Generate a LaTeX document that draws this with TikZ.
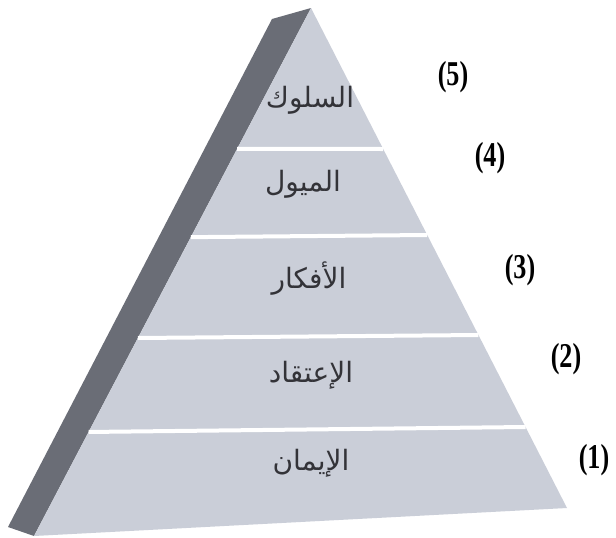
\documentclass[tikz,border=0pt]{standalone}
\usepackage{fontspec}
\setmainfont{Liberation Serif}
\newfontfamily\arabicfont[Script=Arabic]{DejaVu Sans}
\TeXXeTstate=1
\usetikzlibrary{calc}
\definecolor{faceC}{HTML}{CACED8}
\definecolor{sideC}{HTML}{6A6D76}
\definecolor{wordC}{HTML}{333338}
\newcommand{\numtxt}[1]{\scalebox{0.9}[1.2]{#1}}
\tikzset{
  word/.style={text=wordC, inner sep=0pt, font=\arabicfont\fontsize{28}{32}\selectfont},
  num/.style={text=black, inner sep=0pt, font=\bfseries\fontsize{29}{34}\selectfont},
  sep/.style={draw=white, line width=4pt}
}
\begin{document}
\begin{tikzpicture}[x=1pt,y=-1pt]
\useasboundingbox (0,0) rectangle (616,538);
\fill[white] (0,0) rectangle (616,538);
\coordinate (A) at (311,8);
\coordinate (L) at (34,536);
\coordinate (R) at (567,508);
\coordinate (S1) at (272,19);
\coordinate (S2) at (8,527);
% side face
\fill[sideC] (S1) -- (A) -- (L) -- (S2) -- cycle;
% front face
\fill[faceC] (A) -- (R) -- (L) -- cycle;
% separators
\draw[sep] ($(A)!0.267!(L)$) -- ($(A)!0.282!(R)$);
\draw[sep] ($(A)!0.434!(L)$) -- ($(A)!0.454!(R)$);
\draw[sep] ($(A)!0.625!(L)$) -- ($(A)!0.654!(R)$);
\draw[sep] ($(A)!0.803!(L)$) -- ($(A)!0.838!(R)$);
% words
\node[word] (w5) at (310,100) {\beginR السلوك\endR};
\node[word] (w4) at (303,184) {\beginR الميول\endR};
\node[word] (w3) at (309,279) {\beginR الأفكار\endR};
\node[word] (w2) at (311,375) {\beginR الإعتقاد\endR};
\node[word] (w1) at (311,463) {\beginR الإيمان\endR};
% numbers
\node[num] (n5) at (453,77) {\numtxt{(5)}};
\node[num] (n4) at (490,158) {\numtxt{(4)}};
\node[num] (n3) at (520,270) {\numtxt{(3)}};
\node[num] (n2) at (566,359) {\numtxt{(2)}};
\node[num] (n1) at (594,460) {\numtxt{(1)}};
\end{tikzpicture}
\end{document}
